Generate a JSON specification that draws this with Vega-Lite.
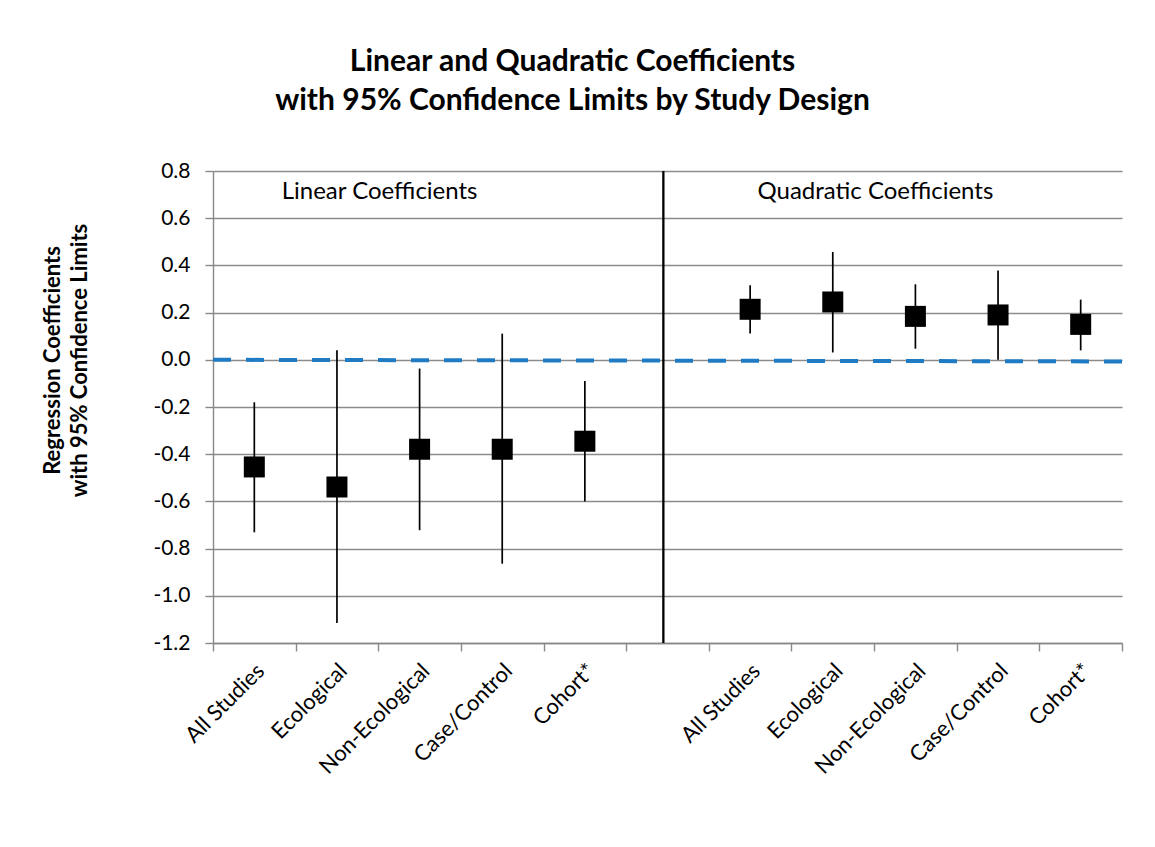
{
  "$schema": "https://vega.github.io/schema/vega-lite/v6.json",
  "autosize": {"type": "none"},
  "width": 909,
  "height": 472,
  "padding": {"left": 213, "top": 171, "right": 33, "bottom": 204},
  "background": "white",
  "title": {
    "text": ["Linear and Quadratic Coefficients", "with 95% Confidence Limits by Study Design"],
    "font": "Lato",
    "fontSize": 30,
    "fontWeight": "bold",
    "color": "black",
    "lineHeight": 39,
    "anchor": "middle",
    "dx": -95,
    "offset": 44
  },
  "config": {
    "font": "Lato",
    "view": {"stroke": null},
    "axis": {
      "labelFont": "Lato",
      "labelColor": "black",
      "labelFontSize": 21,
      "domainColor": "#888888",
      "domainWidth": 1.4,
      "tickColor": "#888888",
      "tickWidth": 1.4,
      "tickSize": 8,
      "gridColor": "#8c8c8c",
      "gridWidth": 1.3
    }
  },
  "datasets": {
    "coefs": [
      {"slot": "L:All Studies", "est": -0.454, "lo": -0.731, "hi": -0.18},
      {"slot": "L:Ecological", "est": -0.539, "lo": -1.115, "hi": 0.04},
      {"slot": "L:Non-Ecological", "est": -0.379, "lo": -0.722, "hi": -0.037},
      {"slot": "L:Case/Control", "est": -0.379, "lo": -0.864, "hi": 0.111},
      {"slot": "L:Cohort*", "est": -0.345, "lo": -0.6, "hi": -0.09},
      {"slot": "Q:All Studies", "est": 0.214, "lo": 0.111, "hi": 0.316},
      {"slot": "Q:Ecological", "est": 0.245, "lo": 0.031, "hi": 0.457},
      {"slot": "Q:Non-Ecological", "est": 0.184, "lo": 0.047, "hi": 0.32},
      {"slot": "Q:Case/Control", "est": 0.19, "lo": 0.0, "hi": 0.378},
      {"slot": "Q:Cohort*", "est": 0.15, "lo": 0.04, "hi": 0.255}
    ],
    "divider": [{"slot": "G:", "bottom": -1.2, "top": 0.8}],
    "sections": [
      {"slot": "L:Non-Ecological", "y": 0.71, "label": "Linear Coefficients"},
      {"slot": "Q:Non-Ecological", "y": 0.71, "label": "Quadratic Coefficients"}
    ],
    "trend": [
      {"pos": 0, "val": 0.0},
      {"pos": 1, "val": -0.007}
    ]
  },
  "resolve": {"scale": {"x": "independent"}},
  "layer": [
    {
      "data": {"name": "coefs"},
      "layer": [
        {
          "mark": {"type": "rule", "color": "black", "strokeWidth": 1.7},
          "encoding": {
            "x": {
              "field": "slot",
              "type": "nominal",
              "scale": {
                "domain": ["L:All Studies", "L:Ecological", "L:Non-Ecological", "L:Case/Control", "L:Cohort*", "G:", "Q:All Studies", "Q:Ecological", "Q:Non-Ecological", "Q:Case/Control", "Q:Cohort*"],
                "paddingInner": 0,
                "paddingOuter": 0
              },
              "axis": {
                "title": null,
                "labelFontSize": 22,
                "labelAngle": -45,
                "labelAlign": "right",
                "labelBaseline": "middle",
                "labelPadding": 16,
                "labelOffset": 6,
                "tickBand": "extent",
                "grid": false,
                "labelExpr": "substring(datum.label, 2)"
              }
            },
            "y": {
              "field": "lo",
              "type": "quantitative",
              "scale": {"domain": [-1.2, 0.8], "nice": false, "zero": false},
              "axis": {
                "values": [-1.2, -1.0, -0.8, -0.6, -0.4, -0.2, 0.0, 0.2, 0.4, 0.6, 0.8],
                "labelExpr": "datum.value < -0.00001 ? '-' + format(-datum.value, '.1f') : format(datum.value, '.1f')",
                "labelPadding": 15,
                "grid": true,
                "title": ["Regression Coefficients", "with 95% Confidence Limits"],
                "titleFont": "Lato",
                "titleFontSize": 22,
                "titleFontWeight": "bold",
                "titleColor": "black",
                "titleLineHeight": 27,
                "titleAngle": -90,
                "titleAlign": "center",
                "titleBaseline": "middle",
                "titleX": -161,
                "titleY": 189
              }
            },
            "y2": {"field": "hi"}
          }
        },
        {
          "mark": {"type": "point", "shape": "square", "filled": true, "color": "black", "size": 441, "opacity": 1},
          "encoding": {
            "x": {"field": "slot", "type": "nominal"},
            "y": {"field": "est", "type": "quantitative"}
          }
        }
      ]
    },
    {
      "data": {"name": "trend"},
      "mark": {"type": "line", "color": "#1f7cc4", "strokeWidth": 4, "strokeDash": [18, 15], "strokeCap": "butt"},
      "encoding": {
        "x": {"field": "pos", "type": "quantitative", "scale": {"domain": [0, 1], "nice": false, "zero": false}, "axis": null},
        "y": {"field": "val", "type": "quantitative"}
      }
    },
    {
      "data": {"name": "divider"},
      "mark": {"type": "rule", "color": "black", "strokeWidth": 2.3},
      "encoding": {
        "x": {"field": "slot", "type": "nominal", "bandPosition": 0.45, "scale": {"domain": ["L:All Studies", "L:Ecological", "L:Non-Ecological", "L:Case/Control", "L:Cohort*", "G:", "Q:All Studies", "Q:Ecological", "Q:Non-Ecological", "Q:Case/Control", "Q:Cohort*"], "paddingInner": 0, "paddingOuter": 0}, "axis": null},
        "y": {"field": "bottom", "type": "quantitative"},
        "y2": {"field": "top"}
      }
    },
    {
      "data": {"name": "sections"},
      "mark": {"type": "text", "font": "Lato", "fontSize": 24, "color": "black", "align": "center", "baseline": "middle", "dx": -40},
      "encoding": {
        "x": {"field": "slot", "type": "nominal", "scale": {"domain": ["L:All Studies", "L:Ecological", "L:Non-Ecological", "L:Case/Control", "L:Cohort*", "G:", "Q:All Studies", "Q:Ecological", "Q:Non-Ecological", "Q:Case/Control", "Q:Cohort*"], "paddingInner": 0, "paddingOuter": 0}, "axis": null},
        "y": {"field": "y", "type": "quantitative"},
        "text": {"field": "label"}
      }
    }
  ]
}
